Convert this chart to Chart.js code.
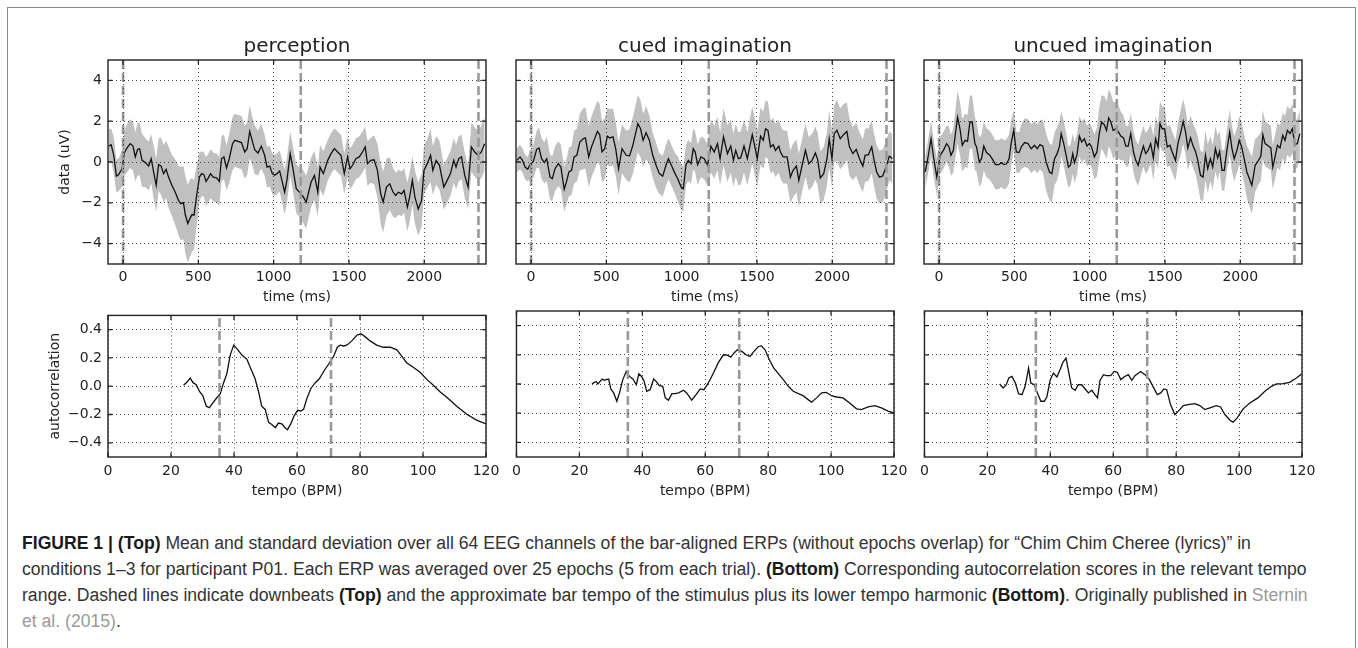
<!DOCTYPE html>
<html><head><meta charset="utf-8">
<script src="https://cdn.jsdelivr.net/npm/chart.js@4"></script>
<style>
html,body{margin:0;padding:0;background:#fff;}
body{width:1358px;height:648px;position:relative;overflow:hidden;}
#frame{position:absolute;left:7px;top:7px;width:1347px;height:700px;border:1px solid #8a8a8a;}
canvas{position:absolute;}
#caption{position:absolute;left:22px;top:530px;font-family:"Liberation Sans",Arial,sans-serif;font-size:17.6px;line-height:26px;color:#333;white-space:nowrap;}
#caption b{color:#1a1a1a;}
#caption .ref{color:#9a9a9a;}
</style></head>
<body>
<div id="frame"></div>
<canvas id="t1" width="554" height="274" style="left:20px;top:33px"></canvas>
<canvas id="t2" width="398" height="274" style="left:506px;top:33px"></canvas>
<canvas id="t3" width="398" height="274" style="left:914px;top:33px"></canvas>
<canvas id="b1" width="486" height="202" style="left:20px;top:301px"></canvas>
<canvas id="b2" width="408" height="202" style="left:506px;top:301px"></canvas>
<canvas id="b3" width="408" height="202" style="left:914px;top:301px"></canvas>
<div id="caption"><b>FIGURE 1 | (Top)</b> Mean and standard deviation over all 64 EEG channels of the bar-aligned ERPs (without epochs overlap) for “Chim Chim Cheree (lyrics)” in<br>conditions 1–3 for participant P01. Each ERP was averaged over 25 epochs (5 from each trial). <b>(Bottom)</b> Corresponding autocorrelation scores in the relevant tempo<br>range. Dashed lines indicate downbeats <b>(Top)</b> and the approximate bar tempo of the stimulus plus its lower tempo harmonic <b>(Bottom)</b>. Originally published in <span class="ref">Sternin</span><br><span class="ref">et al. (2015)</span>.</div>
<script>
// ---------- data ----------
const panelTitles = ['perception', 'cued imagination', 'uncued imagination'];
const timeTicks = [0, 500, 1000, 1500, 2000];
const dataTicks = [-4, -2, 0, 2, 4];
const tempoTicks = [0, 20, 40, 60, 80, 100, 120];
const acTicks = [-0.4, -0.2, 0, 0.2, 0.4];
const downbeats = [0, 1180, 2360];
const tempoMarks = [35.4, 70.8];

const percT = [-95,-79,-62,-44,-29,-7,9,26,48,66,81,97,110,126,148,170,187,203,220,236,253,269,286,302,324,346,368,383,401,414,430,445,458,471,489,507,522,537,551,566,581,599,621,639,654,670,687,705,727,742,764,786,808,824,841,857,874,896,918,940,956,974,991,1007,1022,1040,1073,1088,1110,1128,1150,1172,1198,1216,1249,1271,1293,1308,1330,1359,1381,1403,1425,1447,1469,1491,1507,1524,1546,1568,1590,1608,1623,1645,1667,1689,1711,1727,1749,1771,1793,1811,1828,1850,1866,1888,1903,1921,1938,1960,1982,1998,2020,2042,2057,2079,2101,2130,2152,2174,2196,2211,2229,2247,2269,2291,2313,2335,2357,2379,2401];
const percMean = [0.78,0.85,0.33,-0.69,-0.62,-0.33,0.45,0.69,0.9,0.78,0.25,0.62,0.65,0.08,-0.03,-0.2,0.16,-0.49,-1.14,-0.13,-0.2,-0.57,-0.36,-0.74,-1.14,-1.47,-1.88,-2.04,-1.99,-2.61,-3.02,-2.75,-2.58,-2.61,-1.63,-0.74,-0.57,-0.62,-0.95,-0.78,-0.57,-0.74,-0.78,-0.95,0.16,0.25,-0.29,0.16,0.9,1.06,1.01,0.95,0.49,0.65,1.5,1.06,0.6,0.44,0.78,0.33,-0.25,-0.2,-0.57,-0.65,-0.57,-0.44,-1.48,-0.9,0.41,-0.33,-1.31,-1.48,-1.72,-1.97,-0.98,-0.66,-1.48,-0.25,-0.57,0.08,0.41,0.66,0.49,0.33,-0.57,0.25,-0.33,-0.16,0.16,0.25,0.49,0.74,-0.08,0.08,0.11,-0.41,-1.56,-1.97,-1.23,-1.07,-1.48,-1.64,-1.48,-1.56,-1.39,-2.21,-1.72,-0.9,-1.72,-2.3,-1.89,-0.41,-0.08,0.33,-0.41,0.08,-0.16,-1.23,-0.9,-0.57,0.08,-0.25,0.16,0.25,-0.66,-1.23,0.74,0.49,0.33,0.49,0.9];
const percSd = [0.8,0.8,0.9,0.8,0.8,0.9,1.1,1.2,1.2,1.2,1.2,1.3,1.3,1.3,1.2,1.2,1.2,1.3,1.3,1.3,1.4,1.4,1.4,1.5,1.5,1.6,1.7,1.8,1.8,1.9,1.9,1.9,1.8,1.7,1.5,1.2,1.1,1.1,1.2,1.2,1.2,1.2,1.2,1.2,1.1,1.1,1.1,1.2,1.3,1.3,1.3,1.3,1.3,1.3,1.3,1.2,1.2,1.1,1.1,1.0,1.0,1.0,1.0,1.0,1.0,1.0,1.1,1.1,1.1,1.1,1.2,1.2,1.3,1.3,1.2,1.2,1.2,1.1,1.1,1.0,1.0,1.0,1.0,1.0,1.0,1.0,1.0,1.0,1.0,1.0,1.0,1.0,1.1,1.1,1.2,1.3,1.5,1.5,1.4,1.3,1.2,1.1,1.1,1.1,1.1,1.2,1.2,1.2,1.3,1.3,1.3,1.2,1.2,1.3,1.2,1.2,1.2,1.1,1.1,1.1,1.1,1.1,1.1,1.1,1.1,1.1,1.2,1.2,1.2,1.3,1.3];

const cuedT = [-95,-73,-57,-40,-22,-7,15,37,53,70,88,104,126,141,159,181,198,220,236,251,269,286,304,324,346,361,383,401,418,441,456,471,489,507,522,544,562,581,604,632,654,676,709,727,744,764,786,808,830,852,874,896,912,934,956,974,996,1011,1029,1044,1062,1077,1090,1106,1128,1150,1172,1194,1216,1238,1255,1278,1304,1326,1344,1359,1377,1392,1414,1436,1469,1485,1502,1524,1542,1557,1573,1590,1608,1623,1645,1656,1674,1700,1722,1740,1762,1778,1800,1822,1844,1866,1888,1903,1921,1943,1965,1980,1998,2013,2031,2053,2075,2097,2114,2137,2159,2181,2203,2218,2240,2262,2278,2295,2313,2335,2357,2379,2399];
const cuedMean = [0.08,0.25,0.08,-0.25,-0.36,-0.13,0.03,0.62,0.69,0.16,-0.03,0.16,-0.74,-0.82,-0.33,-0.08,-0.25,-1.34,-0.95,-0.49,-0.41,0.25,0.33,0.98,1.14,1.18,0.25,0.74,1.06,1.5,1.34,0.49,0.65,1.27,1.18,1.23,0.65,-0.33,0.65,0.33,0.3,0.82,1.88,1.63,1.06,1.44,1.06,0.33,-0.16,-0.57,-0.69,-0.16,0.16,-0.2,-0.57,-0.82,-1.23,-1.31,-0.13,0.08,-0.08,0.65,0.49,-0.13,0.25,0.16,-0.16,0.78,0.49,0.9,0.16,1.23,0.41,0.78,0.08,0.57,0.16,0.2,0.78,0.16,1.34,0.78,0.16,1.27,1.06,1.63,1.55,0.74,0.85,0.57,0.78,0.49,0.25,0.25,-0.74,-0.41,-0.2,-0.9,-0.16,0.57,-0.08,0.08,0.44,0.13,-0.78,-0.57,0.16,1.14,0.16,1.39,1.55,1.14,1.34,1.5,0.74,0.41,0.62,0.16,-0.2,0.33,0.36,0.74,0.08,-0.49,-0.74,-0.69,-0.25,0.29,0.16];
const cuedSd = [0.6,0.6,0.6,0.6,0.6,0.7,0.8,0.9,1.0,1.0,1.0,1.1,1.1,1.1,1.1,1.1,1.1,1.1,1.1,1.2,1.2,1.3,1.3,1.4,1.5,1.5,1.5,1.5,1.5,1.5,1.5,1.5,1.5,1.4,1.4,1.4,1.3,1.3,1.2,1.2,1.3,1.4,1.4,1.4,1.3,1.3,1.2,1.1,1.1,1.0,1.0,1.0,1.0,1.0,1.0,1.1,1.1,1.1,1.0,1.0,1.0,1.0,1.0,1.0,1.0,1.0,1.0,1.3,1.3,1.3,1.3,1.4,1.4,1.3,1.3,1.3,1.3,1.3,1.3,1.3,1.4,1.4,1.4,1.4,1.4,1.4,1.4,1.3,1.3,1.3,1.3,1.3,1.3,1.3,1.3,1.3,1.3,1.3,1.3,1.3,1.3,1.3,1.3,1.3,1.3,1.3,1.3,1.4,1.4,1.4,1.5,1.5,1.5,1.4,1.4,1.3,1.3,1.3,1.3,1.3,1.3,1.3,1.3,1.3,1.3,1.3,1.3,1.2,1.2];

const uncuedT = [-92,-75,-53,-35,-15,7,29,50,66,79,95,110,123,139,154,172,189,205,220,238,249,267,282,297,315,337,359,374,396,414,432,447,465,480,496,513,531,546,568,590,612,634,652,670,689,711,733,749,767,784,800,811,828,844,859,872,888,899,916,932,947,965,982,998,1013,1031,1048,1064,1079,1097,1112,1126,1141,1156,1174,1189,1207,1225,1240,1256,1273,1291,1306,1322,1339,1357,1372,1388,1405,1423,1438,1454,1467,1482,1498,1515,1533,1548,1570,1586,1603,1621,1637,1652,1670,1687,1703,1718,1736,1753,1769,1784,1802,1817,1835,1850,1863,1879,1894,1912,1930,1945,1960,1978,1993,2009,2026,2044,2077,2099,2121,2137,2150,2165,2187,2203,2216,2231,2247,2264,2282,2297,2313,2330,2346,2363,2379,2396];
const uncuedMean = [-0.49,0.16,1.14,0.16,-0.74,0.33,0.57,0.9,0.74,0.33,0.57,1.47,2.2,1.63,0.82,1.06,1.01,1.96,1.96,0.9,0.74,0,0.16,0.78,0.46,0.33,0.08,-0.13,-0.13,-0.03,-0.13,-0.1,0.16,0.98,1.55,0.49,0.46,0.74,0.95,0.9,0.65,0.82,0.65,0.85,0.78,0,-0.49,-0.57,0.16,0.41,0.78,1.39,0.9,0.33,-0.25,-0.16,0.41,-0.03,0.36,1.27,0.98,1.14,0.78,0.9,0.74,0.25,0.49,1.39,1.96,1.83,1.55,2.16,1.96,1.55,1.63,1.5,1.27,1.18,0.78,0.78,1.39,0.49,0.08,-0.16,0.33,0.78,0.41,0.57,0.9,0.2,1.14,0.74,1.88,1.63,1.63,0.74,0.82,0.49,0.08,0.9,1.39,1.99,1.47,0.69,1.18,0.78,0.52,0.08,-0.65,-0.74,0.33,-0.33,0.16,-0.25,0.65,0.2,0.52,-0.41,-0.41,0.62,1.47,0.65,0.16,0.57,1.06,0.74,0.16,-0.49,-1.14,-0.16,0.08,0.29,1.34,0.9,0.78,0.69,-0.25,0.25,0.82,0.69,1.31,1.06,1.55,1.39,1.63,0.85,0.9,1.39];
const uncuedSd = [0.8,0.8,0.9,0.9,0.9,0.9,0.9,0.9,1.0,1.0,1.1,1.2,1.3,1.3,1.3,1.3,1.3,1.3,1.3,1.3,1.2,1.2,1.2,1.2,1.2,1.2,1.2,1.2,1.2,1.2,1.2,1.2,1.2,1.1,1.0,1.0,1.0,1.1,1.2,1.2,1.2,1.2,1.2,1.2,1.3,1.4,1.4,1.4,1.3,1.3,1.2,1.1,1.1,1.1,1.0,1.0,1.0,1.0,1.0,1.0,1.0,1.0,1.0,1.0,1.0,1.1,1.2,1.3,1.3,1.4,1.4,1.4,1.4,1.4,1.3,1.3,1.2,1.1,1.0,1.0,1.0,1.0,1.0,1.0,1.0,1.0,1.0,1.0,1.0,1.1,1.1,1.1,1.1,1.1,1.1,1.0,1.0,1.0,1.0,1.0,1.1,1.1,1.1,1.1,1.1,1.1,1.1,1.2,1.2,1.2,1.2,1.2,1.1,1.1,1.1,1.1,1.0,1.0,1.0,1.0,1.1,1.1,1.1,1.1,1.2,1.2,1.2,1.3,1.4,1.3,1.2,1.2,1.2,1.1,1.1,1.1,1.1,1.1,1.1,1.1,1.1,1.2,1.2,1.2,1.2,1.2,1.2,1.2];

const bpmPerc = [24.0,25.1,26.1,27.0,28.0,29.1,30.1,31.2,32.2,33.3,34.6,35.6,36.7,37.7,38.8,39.9,41.1,42.5,44.1,45.4,46.7,47.8,48.8,49.9,51.0,52.0,53.1,54.1,55.2,56.2,57.0,58.0,59.1,60.2,61.2,62.1,63.1,64.4,65.8,67.1,68.4,70.0,71.6,72.8,73.7,74.8,75.8,77.4,79.0,80.3,81.6,83.2,85.3,87.4,89.6,91.7,93.3,94.8,97.0,99.1,101.2,103.3,105.4,108.1,110.7,113.9,117.0,120];
const acPerc = [0.007,0.03,0.057,0.025,0.011,-0.039,-0.066,-0.141,-0.152,-0.118,-0.08,-0.057,0.025,0.086,0.22,0.29,0.26,0.22,0.19,0.12,0.052,-0.039,-0.141,-0.164,-0.255,-0.27,-0.293,-0.26,-0.266,-0.293,-0.307,-0.266,-0.209,-0.17,-0.175,-0.164,-0.089,-0.016,0.025,0.052,0.102,0.155,0.21,0.275,0.29,0.284,0.29,0.32,0.36,0.37,0.35,0.32,0.29,0.275,0.275,0.257,0.21,0.166,0.132,0.098,0.048,0.007,-0.039,-0.089,-0.141,-0.198,-0.239,-0.266];
const bpmCued = [24.0,24.7,25.4,25.9,26.6,27.2,27.9,28.5,29.3,30.0,30.9,31.9,32.8,33.8,34.9,35.9,37.0,38.1,38.9,39.9,40.6,41.4,42.5,43.6,44.4,45.4,46.5,47.3,48.3,49.4,50.4,51.5,53.1,54.1,55.7,57.1,58.4,59.6,61.0,62.6,64.2,65.8,67.0,68.1,69.1,70.2,71.6,73.0,74.2,75.5,76.9,77.9,79.0,80.4,81.8,83.5,85.0,86.4,88.0,89.6,91.1,92.7,93.8,95.4,97.0,98.5,100.1,101.7,103.8,105.9,108.1,109.6,111.8,113.9,116.0,118.1,120];
const acCued = [0,0.011,0.016,0.0,0.018,0.034,0.025,0.03,0.034,-0.034,-0.061,-0.118,-0.057,0.03,0.086,0.052,0.034,-0.005,0.07,0.048,0.018,-0.05,-0.039,0.034,0.018,-0.011,-0.016,-0.095,-0.111,-0.066,-0.066,-0.061,-0.043,-0.061,-0.111,-0.073,-0.034,-0.039,0.007,0.075,0.148,0.2,0.198,0.184,0.211,0.234,0.223,0.2,0.189,0.223,0.257,0.261,0.234,0.166,0.109,0.064,0.025,-0.016,-0.05,-0.066,-0.08,-0.107,-0.125,-0.095,-0.061,-0.057,-0.08,-0.089,-0.095,-0.13,-0.17,-0.175,-0.157,-0.148,-0.164,-0.186,-0.198];
const bpmUncued = [23.9,25.0,26.0,26.8,27.8,28.9,29.9,31.0,32.0,33.1,33.8,34.9,35.9,37.0,38.1,38.9,40.0,41.0,42.1,43.1,44.0,45.0,45.8,46.8,47.9,48.9,50.0,51.1,52.1,53.2,54.2,55.0,55.8,56.9,57.9,59.2,60.3,61.3,62.4,63.4,64.8,65.9,66.9,68.7,70.1,71.5,72.7,74.0,75.1,76.1,77.0,78.2,79.6,80.7,82.3,83.8,86.0,87.5,89.1,90.7,92.8,94.1,95.5,97.1,98.1,99.4,101.3,103.4,106.0,108.2,110.3,111.9,114.0,116.1,118.2,120];
const acUncued = [0,-0.027,-0.005,0.041,0.052,0.007,-0.066,-0.073,-0.016,0.109,0.007,-0.005,-0.061,-0.118,-0.118,-0.089,0.03,0.075,0.048,0.098,0.148,0.177,0.086,-0.027,-0.043,-0.005,-0.005,-0.034,-0.061,-0.043,-0.073,-0.095,0.025,0.064,0.057,0.057,0.086,0.08,0.03,0.048,0.064,0.025,0.057,0.086,0.064,0.03,-0.02,-0.073,-0.061,-0.034,-0.039,-0.141,-0.209,-0.186,-0.148,-0.141,-0.134,-0.148,-0.175,-0.164,-0.148,-0.157,-0.209,-0.248,-0.261,-0.232,-0.17,-0.13,-0.095,-0.05,-0.016,0,0.002,0.011,0.041,0.07];

// ---------- rendering ----------
Chart.defaults.font.family = '"DejaVu Sans", sans-serif';
Chart.defaults.color = '#222';
const INK = '#222';
const minus = v => (v < 0 ? '\u2212' : '');

// matplotlib-like frame with inward ticks on all four sides
const mplFrame = {
  id: 'mplFrame',
  afterDraw(chart) {
    const {ctx, chartArea: a, scales: {x, y}} = chart;
    ctx.save();
    ctx.strokeStyle = INK;
    ctx.lineWidth = 1.3;
    ctx.beginPath();
    const L = 4.5;
    x.ticks.forEach(t => {
      const px = x.getPixelForValue(t.value);
      ctx.moveTo(px, a.top); ctx.lineTo(px, a.top + L);
      ctx.moveTo(px, a.bottom); ctx.lineTo(px, a.bottom - L);
    });
    y.ticks.forEach(t => {
      const py = y.getPixelForValue(t.value);
      ctx.moveTo(a.left, py); ctx.lineTo(a.left + L, py);
      ctx.moveTo(a.right, py); ctx.lineTo(a.right - L, py);
    });
    ctx.stroke();
    ctx.lineWidth = 1.4;
    ctx.strokeRect(a.left, a.top, a.right - a.left, a.bottom - a.top);
    ctx.restore();
  }
};

function axisCommon(ticksArr, fmt, showLabels, fitProp, fitVal, title, titlePad) {
  return {
    type: 'linear',
    afterBuildTicks: s => { s.ticks = ticksArr.map(v => ({value: v})); },
    afterFit: s => { s[fitProp] = fitVal; },
    grid: {z: 1, color: INK, lineWidth: 0.8, drawTicks: false},
    border: {display: false, dash: [1, 3]},
    ticks: {display: showLabels, padding: 6, color: INK, font: {size: 14}, maxRotation: 0, autoSkip: false, callback: fmt},
    title: {display: !!title, text: title || '', color: INK, font: {size: 14}, padding: titlePad || 0}
  };
}

const fmtInt = v => minus(v) + Math.abs(v);
const fmtDec = v => minus(v) + Math.abs(v).toFixed(1);

function vline(xv, y0, y1) {
  return {data: [{x: xv, y: y0}, {x: xv, y: y1}], borderColor: '#999', borderWidth: 2.6, borderDash: [9, 4], pointRadius: 0, fill: false};
}

function topChart(id, idx, t, mean, sd) {
  const first = idx === 0;
  const n = Math.min(t.length, mean.length, sd.length);
  const line = [], upper = [], lower = [];
  for (let i = 0; i < n; i++) {
    line.push({x: t[i], y: mean[i]});
    upper.push({x: t[i], y: mean[i] + sd[i]});
    lower.push({x: t[i], y: mean[i] - sd[i]});
  }
  const datasets = downbeats.map(d => vline(d, -5, 5));
  datasets.push({data: line, borderColor: '#111', borderWidth: 1.3, pointRadius: 0, fill: false});
  datasets.push({data: upper, borderColor: 'rgba(0,0,0,0)', borderWidth: 0, pointRadius: 0, fill: '+1', backgroundColor: '#c0c0c0'});
  datasets.push({data: lower, borderColor: 'rgba(0,0,0,0)', borderWidth: 0, pointRadius: 0, fill: false});
  const yw = first ? 88 : 10;
  const xs = axisCommon(timeTicks, fmtInt, true, 'height', 43, 'time (ms)', {top: 0, bottom: 1.6});
  xs.min = -100; xs.max = 2410;
  xs.ticks.padding = 5;
  const ys = axisCommon(dataTicks, fmtInt, first, 'width', yw, first ? 'data (uV)' : null, {top: 36.6, bottom: 0});
  ys.min = -5; ys.max = 5;
  new Chart(document.getElementById(id), {
    type: 'line',
    data: {datasets},
    options: {
      responsive: false, animation: false, events: [],
      layout: {padding: {left: 0, right: first ? 88 : 10, top: 0, bottom: 0}},
      plugins: {
        legend: {display: false}, tooltip: {enabled: false},
        title: {display: true, fullSize: false, text: panelTitles[idx], color: INK, font: {size: 20, weight: 'normal'}, padding: {top: 1.5, bottom: 1.5}}
      },
      scales: {x: xs, y: ys}
    },
    plugins: [mplFrame]
  });
}

function bottomChart(id, idx, bpm, ac) {
  const first = idx === 0;
  const n = Math.min(bpm.length, ac.length);
  const line = [];
  for (let i = 0; i < n; i++) line.push({x: bpm[i], y: ac[i]});
  const datasets = tempoMarks.map(m => vline(m, -0.5, 0.5));
  datasets.push({data: line, borderColor: '#111', borderWidth: 1.3, pointRadius: 0, fill: false});
  const xs = axisCommon(tempoTicks, fmtInt, true, 'height', 46, 'tempo (BPM)', {top: 0, bottom: 3.6});
  xs.min = 0; xs.max = 120;
  const ys = axisCommon(acTicks, fmtDec, first, 'width', first ? 88 : 10, first ? 'autocorrelation' : null, {top: 26.6, bottom: 0});
  ys.min = -0.5; ys.max = 0.5;
  new Chart(document.getElementById(id), {
    type: 'line',
    data: {datasets},
    options: {
      responsive: false, animation: false, events: [],
      layout: {padding: {left: 0, right: 20, top: 10, bottom: 0}},
      plugins: {legend: {display: false}, tooltip: {enabled: false}},
      scales: {x: xs, y: ys}
    },
    plugins: [mplFrame]
  });
}

topChart('t1', 0, percT, percMean, percSd);
topChart('t2', 1, cuedT, cuedMean, cuedSd);
topChart('t3', 2, uncuedT, uncuedMean, uncuedSd);
bottomChart('b1', 0, bpmPerc, acPerc);
bottomChart('b2', 1, bpmCued, acCued);
bottomChart('b3', 2, bpmUncued, acUncued);
</script>
</body></html>
